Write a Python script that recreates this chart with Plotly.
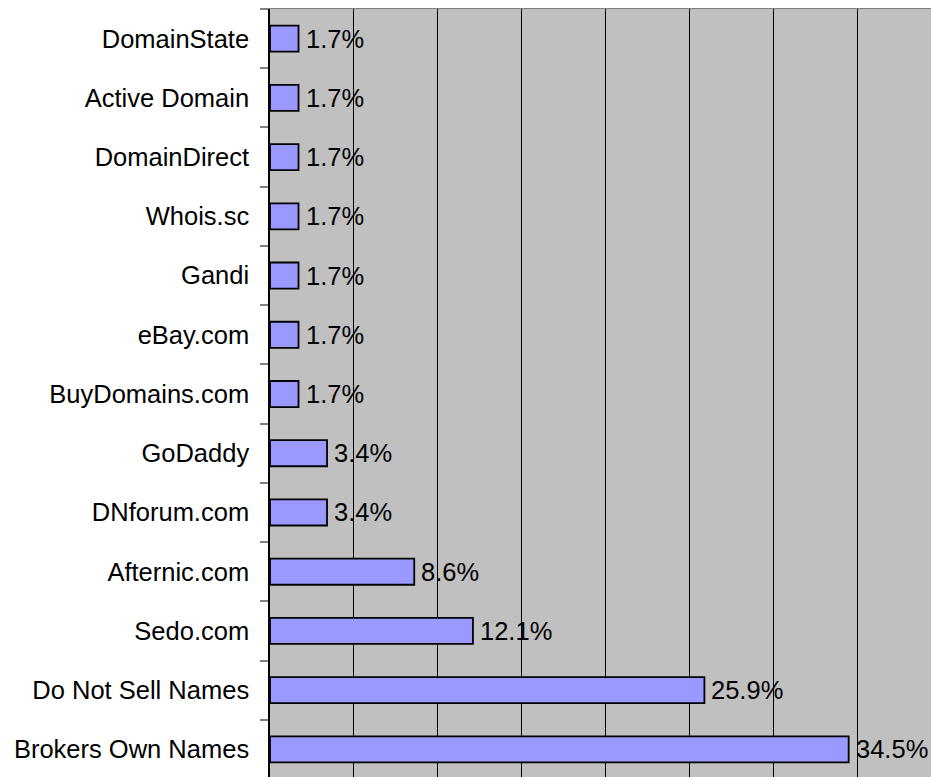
import plotly.graph_objects as go

categories = ["DomainState", "Active Domain", "DomainDirect", "Whois.sc", "Gandi",
              "eBay.com", "BuyDomains.com", "GoDaddy", "DNforum.com", "Afternic.com",
              "Sedo.com", "Do Not Sell Names", "Brokers Own Names"]
values = [1.7, 1.7, 1.7, 1.7, 1.7, 1.7, 1.7, 3.4, 3.4, 8.6, 12.1, 25.9, 34.5]
labels = [f"{v}%" for v in values]
x_ticks = [0, 5, 10, 15, 20, 25, 30, 35, 40]

FONT = "Liberation Sans, Arial, sans-serif"
FS = 25.5

fig = go.Figure()
fig.add_trace(go.Bar(
    y=categories, x=values, orientation="h",
    marker=dict(color="#9999FF", line=dict(color="black", width=1.8)),
    width=0.44, hoverinfo="skip",
))

for c, v, t in zip(categories, values, labels):
    fig.add_annotation(x=v, y=c, text=t, showarrow=False, xanchor="left",
                       yanchor="middle", xshift=5,
                       font=dict(family=FONT, size=FS, color="black"))

fig.update_layout(
    width=931, height=777,
    margin=dict(l=270, r=0, t=9, b=0, pad=0),
    paper_bgcolor="white", plot_bgcolor="#C0C0C0",
    showlegend=False,
    font=dict(family=FONT, size=FS, color="black"),
)
fig.update_xaxes(
    range=[0, 39.41], tickvals=x_ticks, showticklabels=False,
    showgrid=True, gridcolor="black", gridwidth=1, zeroline=False,
    showline=True, linecolor="#808080", linewidth=1, mirror=False, side="top",
    ticks="",
)
fig.update_yaxes(
    type="category", categoryorder="array", categoryarray=categories,
    range=[12.466, -0.5], tickson="boundaries", ticks="outside", ticklen=8,
    tickcolor="#808080", tickwidth=1.5,
    showline=True, linecolor="black", linewidth=1.5, showgrid=False,
    ticklabelstandoff=14,
    tickfont=dict(family=FONT, size=FS, color="black"),
)

fig.write_html("out.html", config={"displayModeBar": False},
               post_script="document.body.style.margin='0';document.body.style.overflow='hidden';")
